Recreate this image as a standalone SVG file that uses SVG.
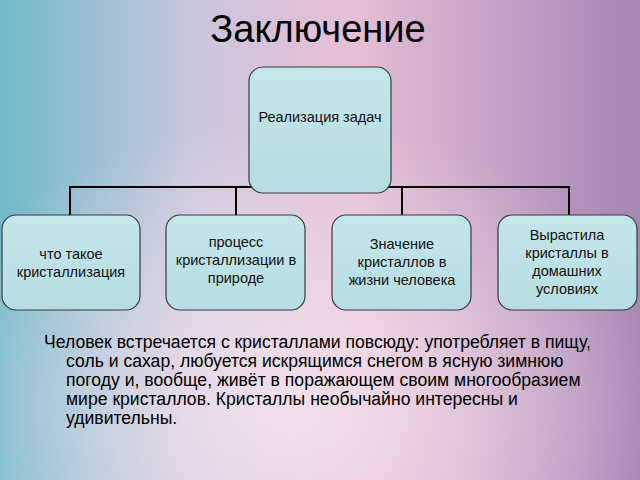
<svg xmlns="http://www.w3.org/2000/svg" width="640" height="480" viewBox="0 0 640 480">
<defs>
<linearGradient id="bg" x1="0" y1="0" x2="1" y2="0">
<stop offset="0" stop-color="#6fb9c8"/><stop offset="0.3" stop-color="#c9c6dc"/><stop offset="0.55" stop-color="#e6bfd6"/><stop offset="1" stop-color="#a486b4"/>
</linearGradient>
<radialGradient id="glow" cx="0.45" cy="0.85" r="0.6">
<stop offset="0" stop-color="#f4e4ee" stop-opacity="0.9"/><stop offset="1" stop-color="#f4e4ee" stop-opacity="0"/>
</radialGradient>
<linearGradient id="nf" x1="0" y1="0" x2="0" y2="1">
<stop offset="0" stop-color="#c4e6ea"/><stop offset="1" stop-color="#b6dde2"/>
</linearGradient>
</defs>
<style>
.n{fill:url(#nf);stroke:#3a3a3a;stroke-width:1.2}
.t{font-family:"Liberation Sans",Arial,sans-serif;font-size:14.5px;fill:#111;text-anchor:middle}
.p{font-family:"Liberation Sans",Arial,sans-serif;font-size:17.6px;fill:#000}
</style>
<rect width="640" height="480" fill="url(#bg)"/>
<rect width="640" height="480" fill="url(#glow)"/>
<text x="318" y="42" font-family="Liberation Sans,Arial,sans-serif" font-size="38" text-anchor="middle" fill="#000">Заключение</text>
<g id="connectors" stroke="#000" stroke-width="2" fill="none">
<path d="M320 193V187M70 187H569M70 186V215M236 186V215M402 186V215M569 186V215"/>
</g>
<g id="n0"><rect class="n" x="249" y="67" width="142" height="126" rx="14"/><text class="t" x="320" y="122">Реализация задач</text></g>
<g id="n1"><rect class="n" x="2" y="215" width="138" height="95" rx="14"/><text class="t" x="71" y="259">что такое</text><text class="t" x="71" y="277">кристаллизация</text></g>
<g id="n2"><rect class="n" x="166" y="215" width="139" height="95" rx="14"/><text class="t" x="236" y="247">процесс</text><text class="t" x="236" y="265">кристаллизации в</text><text class="t" x="236" y="283">природе</text></g>
<g id="n3"><rect class="n" x="332" y="215" width="139" height="95" rx="14"/><text class="t" x="402" y="249">Значение</text><text class="t" x="402" y="267">кристаллов в</text><text class="t" x="402" y="285">жизни человека</text></g>
<g id="n4"><rect class="n" x="498" y="215" width="139" height="95" rx="14"/><text class="t" x="567" y="240">Вырастила</text><text class="t" x="567" y="258">кристаллы в</text><text class="t" x="567" y="276">домашних</text><text class="t" x="567" y="294">условиях</text></g>
<text class="p" x="44" y="348">Человек встречается с кристаллами повсюду: употребляет в пищу,</text>
<text class="p" x="66" y="367">соль и сахар, любуется искрящимся снегом в ясную зимнюю</text>
<text class="p" x="66" y="386">погоду и, вообще, живёт в поражающем своим многообразием</text>
<text class="p" x="66" y="405">мире кристаллов. Кристаллы необычайно интересны и</text>
<text class="p" x="66" y="424">удивительны.</text>
</svg>
